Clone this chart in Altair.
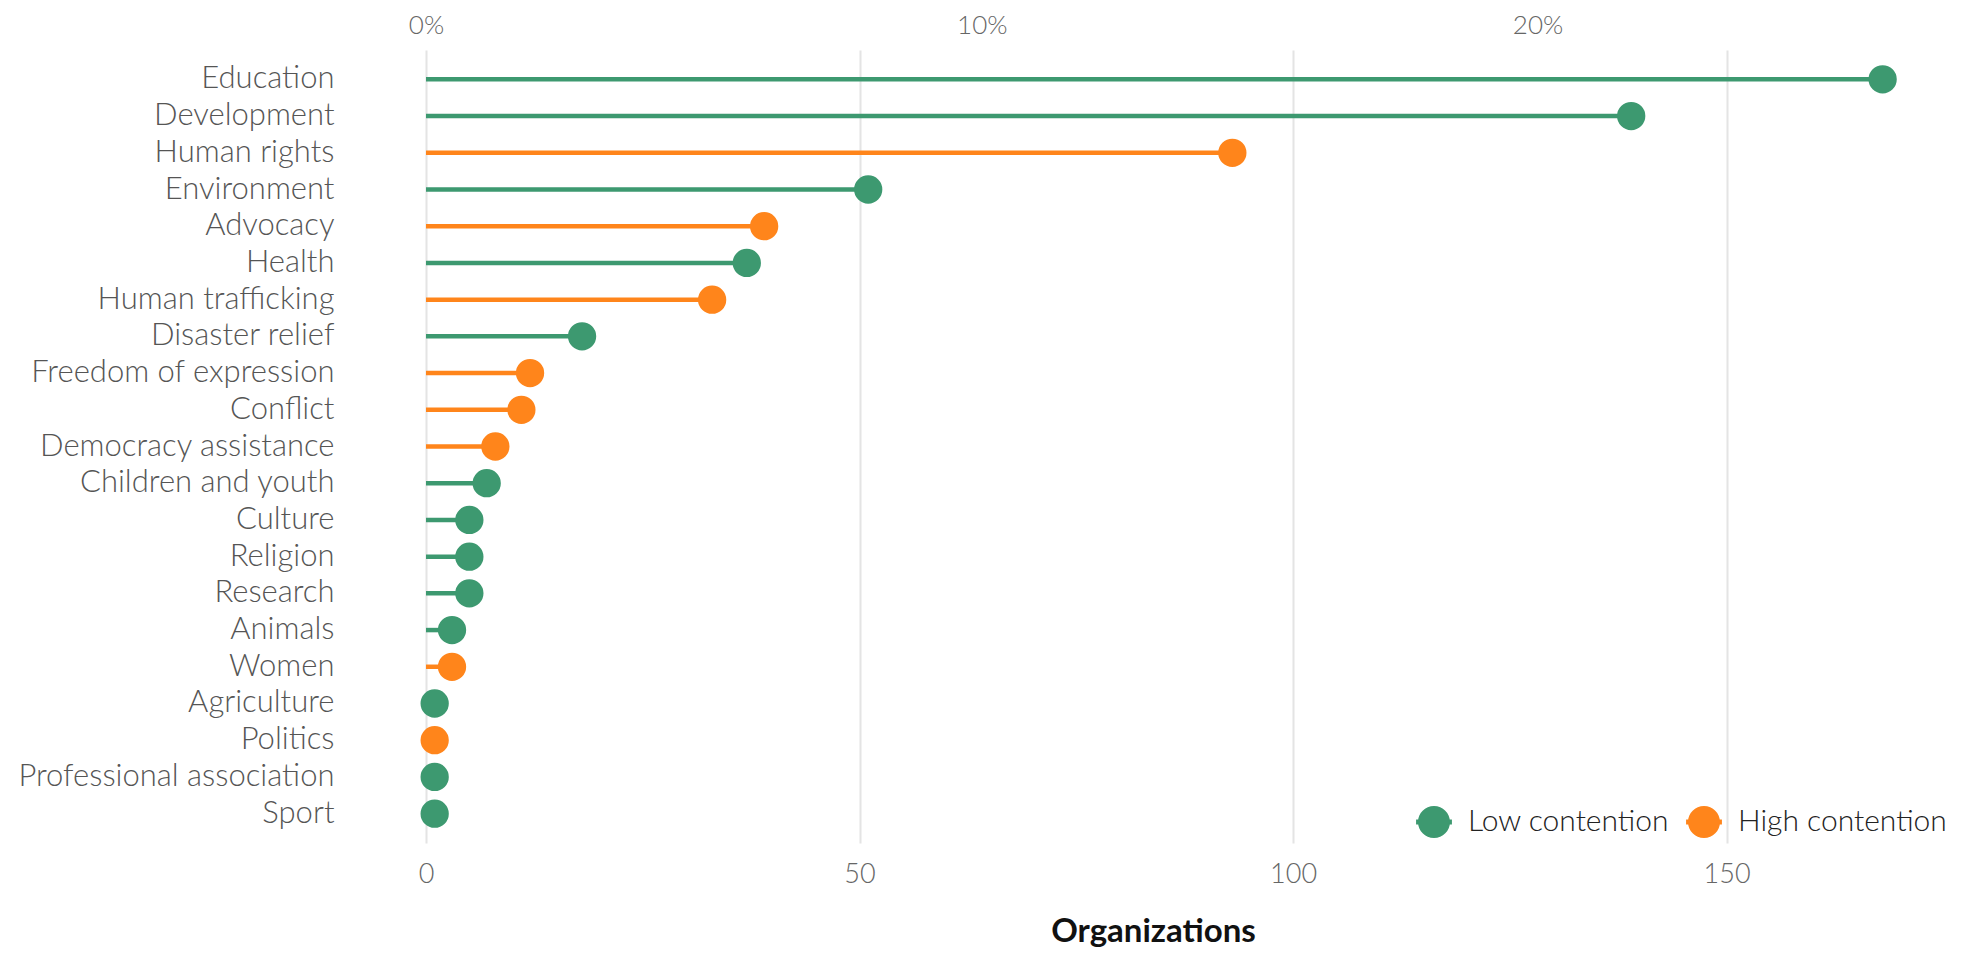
import altair as alt
import pandas as pd

categories = [
    "Education", "Development", "Human rights", "Environment", "Advocacy",
    "Health", "Human trafficking", "Disaster relief", "Freedom of expression",
    "Conflict", "Democracy assistance", "Children and youth", "Culture",
    "Religion", "Research", "Animals", "Women", "Agriculture", "Politics",
    "Professional association", "Sport",
]
organizations = [168, 139, 93, 51, 39, 37, 33, 18, 12, 11, 8, 7, 5, 5, 5, 3, 3, 1, 1, 1, 1]
contention = [
    "Low contention", "Low contention", "High contention", "Low contention",
    "High contention", "Low contention", "High contention", "Low contention",
    "High contention", "High contention", "High contention", "Low contention",
    "Low contention", "Low contention", "Low contention", "Low contention",
    "High contention", "Low contention", "High contention", "Low contention",
    "Low contention",
]
series = ["Low contention", "High contention"]
series_colors = ["#3D9970", "#FF851B"]
count_ticks = [0, 50, 100, 150]
pct_ticks = [0.0, 0.1, 0.2]

total = sum(organizations)
df = pd.DataFrame({"category": categories, "organizations": organizations, "contention": contention})

FONT = "Lato"
x_scale = alt.Scale(domain=[0, 176], nice=False, zero=True)

y_axis = alt.Axis(
    title=None, domain=False, ticks=False, tickSize=0, grid=False,
    labelFont=FONT, labelFontSize=31, labelFontWeight=300, labelColor="#555555",
    labelPadding=92, labelLimit=0, minExtent=418, maxExtent=418,
)
y_enc = alt.Y("category:N", sort=categories, scale=alt.Scale(padding=0.6), axis=y_axis)

legend_symbol = (
    "M-1,0 A1,1 0 1,1 1,0 A1,1 0 1,1 -1,0 Z "
    "M-1.12,-0.15 L1.12,-0.15 L1.12,0.15 L-1.12,0.15 Z"
)

rules = alt.Chart(df).mark_rule(strokeWidth=4.5).encode(
    y=y_enc,
    x=alt.X(
        "organizations:Q", scale=x_scale,
        axis=alt.Axis(
            orient="bottom", values=count_ticks, title="Organizations",
            domain=False, ticks=False, tickSize=0, grid=True,
            gridColor="#e4e4e4", gridWidth=2, labelFlush=False,
            labelFont=FONT, labelFontSize=27, labelFontWeight=300, labelColor="#666666",
            labelPadding=18, titleFont=FONT, titleFontSize=33, titleFontWeight="bold",
            titleColor="#111111", titlePadding=28, titleX=727, titleAlign="center",
        ),
    ),
    x2=alt.X2(datum=0),
    color=alt.Color("contention:N", scale=alt.Scale(domain=series, range=series_colors)),
)

dots = alt.Chart(df).mark_circle(size=800, opacity=1).encode(
    y=y_enc,
    x=alt.X(
        "organizations:Q", scale=x_scale,
        axis=alt.Axis(
            orient="top", values=[p * total for p in pct_ticks], title=None,
            labelExpr=f"format(datum.value / {total}, '.0%')",
            domain=False, ticks=False, tickSize=0, grid=False, labelFlush=False,
            labelFont=FONT, labelFontSize=26, labelFontWeight=300, labelColor="#666666",
            labelPadding=12, minExtent=42, maxExtent=42,
        ),
    ),
    color=alt.Color("contention:N", scale=alt.Scale(domain=series, range=series_colors)),
)

chart = (
    alt.layer(rules, dots)
    .resolve_axis(x="independent")
    .properties(width=1526, height=793, padding=0)
    .configure_view(stroke=None)
    .configure_legend(
        orient="bottom-right", direction="horizontal", title=None,
        labelFont=FONT, labelFontSize=30, labelFontWeight=300, labelColor="#222222",
        labelLimit=500, symbolType=legend_symbol, symbolSize=1024, symbolStrokeWidth=0,
        symbolOpacity=1, labelOffset=18, columnPadding=16, padding=0, offset=5,
    )
)

chart.save("out.html", embed_options={"renderer": "svg", "actions": False})
